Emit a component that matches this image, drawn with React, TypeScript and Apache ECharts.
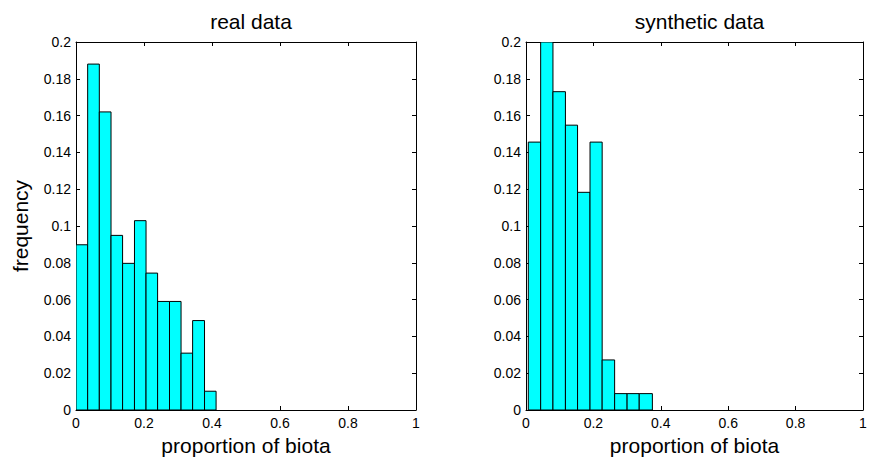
import React, { useEffect, useRef } from "react";
import * as echarts from "echarts";

const realEdges = [0, 0.0343, 0.0686, 0.103, 0.137, 0.172, 0.206, 0.24, 0.275, 0.309, 0.343, 0.378, 0.412];
const realFreq = [0.0898, 0.188, 0.162, 0.0949, 0.0797, 0.1029, 0.0744, 0.059, 0.059, 0.0309, 0.0486, 0.0102];
const synthEdges = [0.0068, 0.0435, 0.08, 0.117, 0.153, 0.19, 0.226, 0.263, 0.3, 0.336, 0.375];
const synthFreq = [0.1456, 0.2, 0.173, 0.1548, 0.1183, 0.1456, 0.0272, 0.0089, 0.0089, 0.0089];
const xTicks = { min: 0, max: 1, interval: 0.2 };
const yTicks = { min: 0, max: 0.2, interval: 0.02 };
const titles = ["real data", "synthetic data"];
const xName = "proportion of biota";
const yName = "frequency";

const FONT = "Liberation Sans, Arial, sans-serif";

function buildData(edges: number[], freq: number[]) {
  return freq.map((v, i) => [edges[i], edges[i + 1], v]);
}

export default function App() {
  const ref = useRef<HTMLDivElement>(null);
  useEffect(() => {
    if (!ref.current) return;
    const chart = echarts.init(ref.current, null, { renderer: "svg" });
    const grids = [
      { left: 76, top: 42, width: 340, height: 368 },
      { left: 526, top: 42, width: 337, height: 368 },
    ];
    const xAxes: any[] = [];
    const yAxes: any[] = [];
    grids.forEach((_, g) => {
      xAxes.push({
        type: "value",
        gridIndex: g,
        position: "bottom",
        ...xTicks,
        name: xName,
        nameLocation: "middle",
        nameGap: 23,
        nameTextStyle: { fontSize: 21, color: "#000", fontFamily: FONT },
        axisLine: { show: true, onZero: false, lineStyle: { color: "#000", width: 1 } },
        axisTick: { show: true, inside: true, length: 4, lineStyle: { color: "#000" } },
        axisLabel: { show: true, color: "#000", fontSize: 14, fontFamily: FONT, margin: 6, showMinLabel: true, showMaxLabel: true },
        splitLine: { show: false },
      });
      xAxes.push({
        type: "value",
        gridIndex: g,
        position: "top",
        ...xTicks,
        axisLine: { show: true, onZero: false, lineStyle: { color: "#000", width: 1 } },
        axisTick: { show: true, inside: true, length: 4, lineStyle: { color: "#000" } },
        axisLabel: { show: false },
        splitLine: { show: false },
      });
      yAxes.push({
        type: "value",
        gridIndex: g,
        position: "left",
        ...yTicks,
        name: g === 0 ? yName : "",
        nameLocation: "middle",
        nameGap: 45,
        nameTextStyle: { fontSize: 21, color: "#000", fontFamily: FONT },
        axisLine: { show: true, onZero: false, lineStyle: { color: "#000", width: 1 } },
        axisTick: { show: true, inside: true, length: 4, lineStyle: { color: "#000" } },
        axisLabel: { show: true, color: "#000", fontSize: 14, fontFamily: FONT, margin: 5, showMinLabel: true, showMaxLabel: true },
        splitLine: { show: false },
      });
      yAxes.push({
        type: "value",
        gridIndex: g,
        position: "right",
        ...yTicks,
        axisLine: { show: true, onZero: false, lineStyle: { color: "#000", width: 1 } },
        axisTick: { show: true, inside: true, length: 4, lineStyle: { color: "#000" } },
        axisLabel: { show: false },
        splitLine: { show: false },
      });
    });
    const renderItem = (params: any, api: any) => {
      const p0 = api.coord([api.value(0), api.value(2)]);
      const p1 = api.coord([api.value(1), 0]);
      return {
        type: "rect",
        shape: { x: p0[0], y: p0[1], width: p1[0] - p0[0], height: p1[1] - p0[1] },
        style: { fill: "#00FFFF", stroke: "#000", lineWidth: 1 },
      };
    };
    chart.setOption({
      animation: false,
      backgroundColor: "#fff",
      title: titles.map((t, i) => ({
        text: t,
        left: grids[i].left + grids[i].width / 2,
        textAlign: "center",
        top: 6,
        textStyle: { fontSize: 21, fontWeight: "normal", color: "#000", fontFamily: FONT },
      })),
      grid: grids,
      xAxis: xAxes,
      yAxis: yAxes,
      series: [
        { type: "custom", xAxisIndex: 0, yAxisIndex: 0, renderItem, clip: true, encode: { x: [0, 1], y: 2 }, data: buildData(realEdges, realFreq) },
        { type: "custom", xAxisIndex: 2, yAxisIndex: 2, renderItem, clip: true, encode: { x: [0, 1], y: 2 }, data: buildData(synthEdges, synthFreq) },
      ],
    });
    return () => chart.dispose();
  }, []);
  return <div ref={ref} style={{ width: 870, height: 463, position: "absolute", left: 0, top: 0 }} />;
}
